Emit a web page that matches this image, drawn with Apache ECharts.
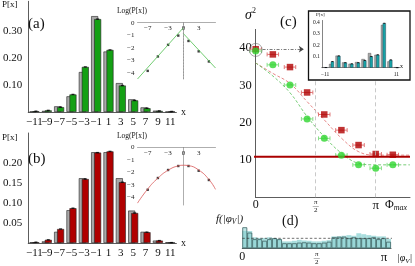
<!DOCTYPE html>
<html><head><meta charset="utf-8">
<script src="https://cdn.jsdelivr.net/npm/echarts@6/dist/echarts.min.js"></script>
<style>html,body{margin:0;padding:0;background:#fff;overflow:hidden}#c{width:415px;height:266px}</style>
</head><body><div id="c"></div>
<script>
// ---------------- data ----------------
const cats = ['−11','−9','−7','−5','−3','−1','1','3','5','7','9','11'];
const aGray  = [0.002,0.004,0.021,0.058,0.148,0.355,0.224,0.107,0.047,0.017,0.005,0.001];
const aGreen = [0.003,0.006,0.018,0.065,0.167,0.344,0.230,0.098,0.043,0.014,0.004,0.002];
const bGray  = [0.002,0.004,0.028,0.082,0.162,0.227,0.227,0.162,0.081,0.028,0.006,0.002];
const bRed   = [0.002,0.008,0.035,0.087,0.160,0.226,0.229,0.152,0.075,0.027,0.006,0.001];
const logX   = [-7,-5,-3,-1,1,3,5];
const aLog   = [-3.85,-2.70,-1.77,-1.03,-1.46,-2.29,-3.10];
const aFitL  = [[-9,-4.5],[0,-0.4]];
const aFitR  = [[0,-0.87],[6.3,-3.62]];
const bLog   = [-3.38,-2.44,-1.80,-1.48,-1.48,-1.86,-2.60];
const bFit   = [[-9,-4.45],[-7,-3.32],[-5,-2.45],[-3,-1.82],[-1,-1.47],[0,-1.42],[1,-1.45],[3,-1.80],[5,-2.55],[6.3,-3.35]];
const logXTicks = [-7,-3,0,3];
const logYTicks = [0,-1,-2,-3,-4];

const phi    = [0,0.449,0.898,1.346,1.795,2.244,2.693,3.142,3.590];
const cGreen = [39.2,35.5,30.1,21.0,15.8,11.3,8.7,7.8,8.7];
const cRed   = [39.7,38.3,34.9,28.1,22.2,18.0,14.0,11.6,11.4];
const cErr   = 0.15;
const phiFit   = [0,0.45,0.90,1.35,1.80,2.25,2.70,3.14,4.04];
const redFit   = [36,33.2,30.5,25.6,20.7,15.8,12.2,11.3,11.3];
const greenFit = [36,32.5,28.0,21.6,16.2,11.8,9.1,8.7,8.7];
const cLevel   = 10.9;
const circleAt = [0,39.5];
const arrowFrom = [0.18,39.7], arrowTo = [1.26,39.7];
const guideTop = 31.4;

const icGray = [0.004,0.033,0.107,0.047,0.035,0.050,0.077,0.130,0.115,0.380,0.056,0.004];
const icTeal = [0.002,0.055,0.105,0.045,0.035,0.045,0.065,0.100,0.115,0.395,0.070,0.001];

const dBins  = Array.from({length:30},(_,i)=>String(i));
const dLight = [0.55,0.55,0.35,0.33,0.33,0.35,0.33,0.30,0.22,0.22,0.24,0.27,0.25,0.24,0.22,0.22,0.24,0.26,0.38,0.38,0.40,0.42,0.40,0.48,0.45,0.42,0.40,0.38,0.38,0.30];
const dDark  = [0.67,0.50,0.29,0.29,0.24,0.29,0.32,0.29,0.16,0.16,0.16,0.18,0.19,0.18,0.16,0.16,0.18,0.21,0.35,0.37,0.37,0.32,0.35,0.32,0.32,0.32,0.35,0.29,0.32,0.21];
const dUniform = 0.318;
const dLineEnd = 3.33;

// ---------------- styles ----------------
const F = "'Liberation Serif','DejaVu Serif',serif";
const PI = Math.PI;
const axC = '#333';
const noSplit = {show:false};

function mainX(g){return {gridIndex:g,type:'category',data:cats,axisLine:{lineStyle:{color:axC,width:0.8}},axisTick:{show:false},splitLine:noSplit,
  axisLabel:{interval:0,fontFamily:F,fontSize:11,color:'#111',margin:5}};}
function mainY(g,max,vals,dec){return {gridIndex:g,type:'value',min:0,max:max,axisLine:{show:true,lineStyle:{color:axC,width:0.8}},axisTick:{show:false},splitLine:noSplit,
  axisLabel:{customValues:vals,fontFamily:F,fontSize:11,color:'#111',margin:6,formatter:v=>v.toFixed(dec)}};}
function logXA(g){return {gridIndex:g,type:'value',position:'top',min:-9,max:6.3,axisLine:{lineStyle:{color:'#777',width:0.6}},axisTick:{show:false},splitLine:noSplit,
  axisLabel:{inside:true,customValues:logXTicks,fontFamily:F,fontSize:7,color:'#222',margin:2,formatter:v=>v<0?'−'+(-v):String(v)}};}
function logYA(g,min){return {gridIndex:g,type:'value',min:min,max:0,axisLine:{show:true,lineStyle:{color:'#777',width:0.6}},axisTick:{show:false},splitLine:noSplit,
  axisLabel:{customValues:logYTicks,fontFamily:F,fontSize:7,color:'#222',margin:3,formatter:v=>v<0?'−'+(-v):String(v)}};}
const fracRich = {n:{fontSize:7,lineHeight:6,fontFamily:F,color:'#111'},l:{fontSize:6,lineHeight:2,color:'#111'},p:{fontSize:13,fontFamily:F,color:'#111'},q:{fontSize:13,fontFamily:F,color:'#111',padding:[0,14,0,0]}};
function piFmt(last){return v=>Math.abs(v)<1e-6?'0':(Math.abs(v-PI/2)<1e-6?'{n|π}\n{l|—}\n{n|2}':'{'+last+'|π}');}

const barBorder = {borderColor:'#222',borderWidth:0.6};

const T=(x,y,text,size,opt)=>({type:'text',x:x,y:y,z:100,style:Object.assign({text:text,fontSize:size,fontFamily:F,fill:'#111',textAlign:'left',textVerticalAlign:'middle'},opt||{})});

function errC(color){return function(params,api){
  const x=api.value(0),y=api.value(1),e=api.value(2);
  const a=api.coord([x-e,y]),b=api.coord([x+e,y]);
  const st={stroke:color,lineWidth:1};
  return {type:'group',children:[
    {type:'line',shape:{x1:a[0],y1:a[1],x2:b[0],y2:b[1]},style:st},
    {type:'line',shape:{x1:a[0],y1:a[1]-2,x2:a[0],y2:a[1]+2},style:st},
    {type:'line',shape:{x1:b[0],y1:b[1]-2,x2:b[0],y2:b[1]+2},style:st}]};};}

const option = {
  animation:false,
  textStyle:{fontFamily:F},
  grid:[
    {left:18.4,top:1.3,width:158,height:110.7},          //0 a main
    {left:137.5,top:22.7,width:78,height:56.3},          //1 a log
    {left:18.4,top:133,width:158,height:110},            //2 b main
    {left:137.5,top:147.5,width:78,height:57.5},         //3 b log
    {left:255.7,top:29.4,width:154.3,height:167.9},      //4 c main
    {left:308.5,top:11,width:101.5,height:69,show:true,backgroundColor:'#fff',borderColor:'#111',borderWidth:1.3}, //5 box
    {left:321.8,top:20.45,width:77.8,height:47.25},      //6 c inset
    {left:242.3,top:223.2,width:148.7,height:25.1}       //7 d
  ],
  xAxis:[
    mainX(0), logXA(1), mainX(2), logXA(3),
    {gridIndex:4,type:'value',min:0,max:4.04,axisLine:{lineStyle:{color:axC,width:0.8}},axisTick:{show:false},splitLine:noSplit,
      axisLabel:{customValues:[0,PI/2,PI],formatter:piFmt('p'),rich:fracRich,fontFamily:F,fontSize:12,color:'#111',margin:2}},
    {gridIndex:5,type:'value',show:false},
    {gridIndex:6,type:'category',data:cats,axisLine:{lineStyle:{color:axC,width:0.6}},axisTick:{show:false},splitLine:noSplit,
      axisLabel:{interval:0,fontFamily:F,fontSize:5.5,color:'#111',margin:4,formatter:(v,i)=>(i===0||i===11)?v:''}},
    {gridIndex:7,type:'value',min:0,max:PI,axisLine:{lineStyle:{color:axC,width:0.9}},axisTick:{show:false},splitLine:noSplit,
      axisLabel:{customValues:[0,PI/2,PI],formatter:piFmt('q'),rich:fracRich,fontFamily:F,fontSize:12,color:'#111',margin:3}},
    {gridIndex:7,type:'category',data:dBins,show:false}
  ],
  yAxis:[
    mainY(0,0.41,[0.1,0.2,0.3],2), logYA(1,-4.5), mainY(2,0.275,[0.05,0.1,0.15,0.2],2), logYA(3,-4.6),
    {gridIndex:4,type:'value',min:0,max:45,axisLine:{show:true,lineStyle:{color:axC,width:0.8}},axisTick:{show:false},splitLine:noSplit,
      axisLabel:{customValues:[10,20,30,40],fontFamily:F,fontSize:12.5,color:'#111',margin:4}},
    {gridIndex:5,type:'value',show:false},
    {gridIndex:6,type:'value',min:0,max:0.42,axisLine:{show:true,lineStyle:{color:axC,width:0.6}},axisTick:{show:false},splitLine:noSplit,
      axisLabel:{customValues:[0.1,0.2,0.3,0.4],fontFamily:F,fontSize:5.5,color:'#111',margin:2,formatter:v=>v.toFixed(1)}},
    {gridIndex:7,type:'value',min:0,max:0.8,show:false}
  ],
  series:[
    // (a)
    {type:'bar',xAxisIndex:0,yAxisIndex:0,data:aGray,barWidth:7,barGap:'-57%',itemStyle:Object.assign({color:'#a9a9a9'},barBorder)},
    {type:'bar',xAxisIndex:0,yAxisIndex:0,data:aGreen,barWidth:7,barGap:'-57%',itemStyle:Object.assign({color:'#14a014'},barBorder)},
    {type:'scatter',xAxisIndex:0,yAxisIndex:0,data:aGreen,symbol:'rect',symbolSize:[3,1.4],symbolOffset:[1.5,0],itemStyle:{color:'#000'},z:5},
    {type:'line',xAxisIndex:1,yAxisIndex:1,data:aFitL,symbol:'none',lineStyle:{color:'#4cbf4c',width:0.8},
      markLine:{silent:true,symbol:'none',label:{show:false},lineStyle:{type:[1.5,1.5],color:'#888',width:0.6},data:[{xAxis:0}]}},
    {type:'line',xAxisIndex:1,yAxisIndex:1,data:aFitR,symbol:'none',lineStyle:{color:'#4cbf4c',width:0.8}},
    {type:'scatter',xAxisIndex:1,yAxisIndex:1,data:logX.map((x,i)=>[x,aLog[i]]),symbol:'rect',symbolSize:2.4,itemStyle:{color:'#111'}},
    // (b)
    {type:'bar',xAxisIndex:2,yAxisIndex:2,data:bGray,barWidth:7,barGap:'-57%',itemStyle:Object.assign({color:'#a9a9a9'},barBorder)},
    {type:'bar',xAxisIndex:2,yAxisIndex:2,data:bRed,barWidth:7,barGap:'-57%',itemStyle:Object.assign({color:'#b00000'},barBorder)},
    {type:'scatter',xAxisIndex:2,yAxisIndex:2,data:bRed,symbol:'rect',symbolSize:[3,1.4],symbolOffset:[1.5,0],itemStyle:{color:'#000'},z:5},
    {type:'line',xAxisIndex:3,yAxisIndex:3,data:bFit,smooth:0.5,symbol:'none',lineStyle:{color:'#d85555',width:0.8}},
    {type:'scatter',xAxisIndex:3,yAxisIndex:3,data:logX.map((x,i)=>[x,bLog[i]]),symbol:'rect',symbolSize:2.4,itemStyle:{color:'#111'}},
    // (c)
    {type:'line',xAxisIndex:4,yAxisIndex:4,data:phiFit.map((x,i)=>[x,redFit[i]]),smooth:0.4,symbol:'none',lineStyle:{color:'#e06a6a',width:0.8,type:[3,2]},
      markLine:{silent:true,symbol:'none',label:{show:false},lineStyle:{type:[4,3],color:'#bbb',width:0.8},
        data:[[{coord:[PI/2,0]},{coord:[PI/2,guideTop]}],[{coord:[PI,0]},{coord:[PI,guideTop]}]]}},
    {type:'line',xAxisIndex:4,yAxisIndex:4,data:phiFit.map((x,i)=>[x,greenFit[i]]),smooth:0.4,symbol:'none',lineStyle:{color:'#55c055',width:0.8,type:[3,2]}},
    {type:'line',xAxisIndex:4,yAxisIndex:4,data:[[-0.1,cLevel],[4.04,cLevel]],clip:false,symbol:'none',lineStyle:{color:'#aa0000',width:2}},
    {type:'custom',xAxisIndex:4,yAxisIndex:4,data:phi.map((x,i)=>[x,cRed[i],cErr]),renderItem:errC('#e07878'),clip:false,z:3},
    {type:'custom',xAxisIndex:4,yAxisIndex:4,data:phi.map((x,i)=>[x,cGreen[i],cErr]),renderItem:errC('#88e088'),clip:false,z:3},
    {type:'scatter',xAxisIndex:4,yAxisIndex:4,data:phi.map((x,i)=>[x,cRed[i]]),symbol:'rect',symbolSize:6.5,clip:false,itemStyle:{color:'#b00000'},z:4},
    {type:'scatter',xAxisIndex:4,yAxisIndex:4,data:phi.map((x,i)=>[x,cGreen[i]]),symbol:'circle',symbolSize:7,clip:false,itemStyle:{color:'#2fd62f'},z:5},
    {type:'scatter',xAxisIndex:4,yAxisIndex:4,data:[circleAt],symbol:'circle',symbolSize:13,clip:false,itemStyle:{color:'rgba(0,0,0,0)',borderColor:'#666',borderWidth:0.7},z:6,
      markLine:{silent:true,symbol:['none','arrow'],symbolSize:5,label:{show:false},lineStyle:{type:[3,1.5,1,1.5],color:'#444',width:0.7},
        data:[[{coord:arrowFrom},{coord:arrowTo}]]}},
    // (c) inset
    {type:'bar',xAxisIndex:6,yAxisIndex:6,data:icGray,barWidth:3.2,barGap:'-45%',itemStyle:{color:'#a9a9a9',borderColor:'#444',borderWidth:0.4}},
    {type:'bar',xAxisIndex:6,yAxisIndex:6,data:icTeal,barWidth:3.2,barGap:'-45%',itemStyle:{color:'#17a2a6',borderColor:'#234',borderWidth:0.4}},
    {type:'scatter',xAxisIndex:6,yAxisIndex:6,data:icTeal,symbol:'rect',symbolSize:[2,1],symbolOffset:[0.9,0],itemStyle:{color:'#000'},z:5},
    // (d)
    {type:'bar',xAxisIndex:8,yAxisIndex:7,data:dLight,barCategoryGap:0,barGap:'-100%',itemStyle:{color:'rgba(140,210,210,0.75)'}},
    {type:'bar',xAxisIndex:8,yAxisIndex:7,data:dDark,barCategoryGap:0,barGap:'-100%',itemStyle:{color:'rgba(140,210,210,0.55)',borderColor:'#3f6464',borderWidth:0.8}},
    {type:'line',xAxisIndex:7,yAxisIndex:7,data:[[0,dUniform],[dLineEnd,dUniform]],clip:false,symbol:'none',lineStyle:{color:'#333',width:0.7,type:[2.5,2]},z:5}
  ],
  graphic:[
    T(2,5,'P[x]',9), T(28,24,'(a)',15), T(117,11.5,'Log(P[x])',7.5), T(181,112,'x',10),
    T(2,138,'P[x]',9), T(28,159.5,'(b)',15), T(117,136.5,'Log(P[x])',7.5), T(181,243,'x',10),
    T(245,15,'{s|σ}{p|2}',14,{rich:{s:{fontSize:14,fontStyle:'italic',fontFamily:F,lineHeight:16},p:{fontSize:8,fontFamily:F,verticalAlign:'top',lineHeight:16}}}),
    T(280,22,'(c)',15), T(316,15,'P[x]',5), T(400,66.5,'x',6),
    T(385,205,'{a|Φ}{b|max}',12,{rich:{a:{fontSize:12,fontFamily:F,lineHeight:14},b:{fontSize:8,fontStyle:'italic',fontFamily:F,verticalAlign:'bottom',lineHeight:14}}}),
    T(216,219.5,'{a|f(|φ}{b|V}{a||)}',11,{rich:{a:{fontSize:11,fontStyle:'italic',fontFamily:F,lineHeight:14},b:{fontSize:7.5,fontStyle:'italic',fontFamily:F,verticalAlign:'bottom',lineHeight:14}}}),
    T(282,221,'(d)',14),
    T(397,258,'{a||φ}{b|V}{a||}',10,{rich:{a:{fontSize:10,fontStyle:'italic',fontFamily:F,lineHeight:13},b:{fontSize:7,fontStyle:'italic',fontFamily:F,verticalAlign:'bottom',lineHeight:13}}})
  ]
};
const chart = echarts.init(document.getElementById('c'));
chart.setOption(option);
</script></body></html>
